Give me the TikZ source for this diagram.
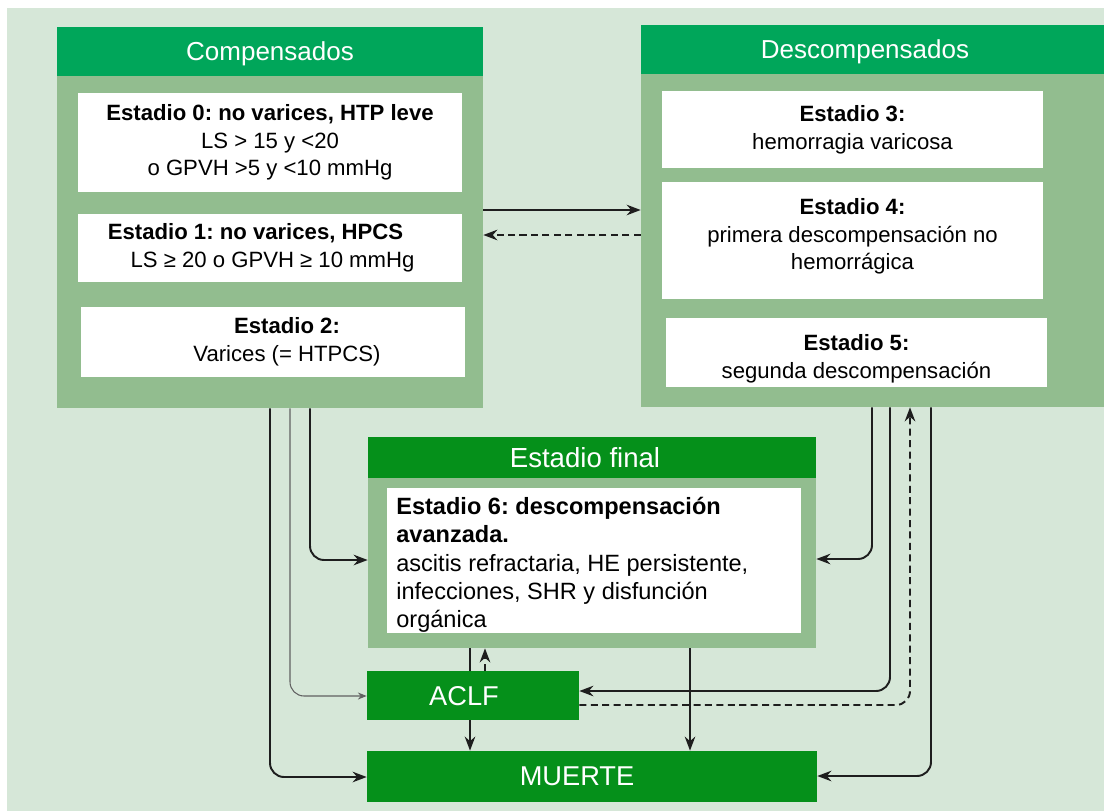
\documentclass[tikz,border=0pt]{standalone}
\usepackage{fontspec}
\setmainfont{Liberation Sans}
\usetikzlibrary{arrows.meta}
\definecolor{bgc}{HTML}{D6E7D8}
\definecolor{headc}{HTML}{00A65A}
\definecolor{bodyc}{HTML}{92BD8F}
\definecolor{darkc}{HTML}{05901A}
\definecolor{linec}{HTML}{1E1E1E}
\frenchspacing
\begin{document}
\begin{tikzpicture}[x=0.02cm,y=-0.02cm,
		panel/.style={fill=bodyc,inner sep=0pt},
		head/.style={fill=headc,text=white,inner sep=0pt,text depth=0pt,font=\fontsize{14.8}{18}\selectfont},
		stage/.style={fill=white,inner sep=0pt,align=center,font=\fontsize{12.6}{15.8}\selectfont},
		stagetext/.style={inner sep=0pt,align=center,font=\fontsize{12.6}{15.8}\selectfont},
		endbox/.style={fill=darkc,text=white,inner sep=0pt,text depth=0pt,font=\fontsize{15.5}{18}\selectfont},
		conn/.style={draw=linec,line width=1.1pt,rounded corners=8pt},
		arr/.style={-{Stealth[length=8pt,width=6pt]}},
		back/.style={dash pattern=on 4pt off 2.5pt}]
		\path[use as bounding box] (0,0) rectangle (1104,811);
		\fill[bgc] (7,8) rectangle (1104,811);
		
		% compensados
		\node[panel,minimum width=8.52cm,minimum height=7.62cm] (comp) at (270,217.5) {};
		\node[head,minimum width=8.52cm,minimum height=0.98cm] (compHead) at (270,51.5) {Compensados};
		\node[stage,minimum width=7.68cm,minimum height=1.98cm] (s0) at (270,142.5) {\textbf{Estadio 0: no varices, HTP leve}\\LS > 15 y <20\\o GPVH >5 y <10 mmHg};
		\node[stage,minimum width=7.68cm,minimum height=1.38cm] (s1) at (270,248) {\textbf{Estadio 1: no varices, HPCS}\hspace*{0.58cm}\\\hspace*{0.1cm}LS ≥ 20 o GPVH ≥ 10 mmHg};
		\node[stage,minimum width=7.68cm,minimum height=1.4cm] (s2) at (273,342) {\hspace*{0.56cm}\textbf{Estadio 2:}\\\hspace*{0.56cm}Varices (= HTPCS)};
		
		% descompensados
		\node[panel,minimum width=9.26cm,minimum height=7.64cm] (desc) at (872.5,216) {};
		\node[head,minimum width=9.26cm,minimum height=0.98cm] (descHead) at (872.5,49.5) {Descompensados\hspace*{0.3cm}};
		\node[stage,minimum width=7.62cm,minimum height=1.54cm] (s3) at (852.5,129.5) {\textbf{Estadio 3:}\\hemorragia varicosa};
		\node[stage,minimum width=7.62cm,minimum height=2.34cm] (s4) at (852.5,240.5) {};
		\node[stagetext] (s4txt) at (852.5,236.5) {\textbf{Estadio 4:}\\primera descompensación no\\hemorrágica};
		\node[stage,minimum width=7.62cm,minimum height=1.38cm] (s5) at (856.5,352.5) {};
		\node[stagetext] (s5txt) at (856.5,359) {\textbf{Estadio 5:}\\segunda descompensación};
		
		% estadio final
		\node[panel,minimum width=8.96cm,minimum height=4.22cm] (fin) at (592,542.5) {};
		\node[endbox,minimum width=8.96cm,minimum height=0.82cm,font=\fontsize{15.7}{18}\selectfont] (finHead) at (592,457.5) {Estadio final\hspace*{0.28cm}};
		\node[stage,minimum width=8.28cm,minimum height=2.9cm] (s6) at (594,560.5) {};
		\node[stagetext,align=left,anchor=west,font=\fontsize{13.4}{16.1}\selectfont] (s6txt) at (396,565) {\textbf{Estadio 6: descompensación}\\\textbf{avanzada.}\\ascitis refractaria, HE persistente,\\infecciones, SHR y disfunción\\orgánica};
		
		\node[endbox,minimum width=4.24cm,minimum height=0.98cm] (aclf) at (473,695.5) {ACLF\hspace*{0.36cm}};
		\node[endbox,minimum width=9cm,minimum height=1.02cm] (muerte) at (592,776.5) {MUERTE\hspace*{0.6cm}};
		
		% flechas
		\draw[conn,arr] (comp.east |- 0,210) -- (desc.west |- 0,210);
		\draw[conn,arr,back] (desc.west |- 0,235) -- (comp.east |- 0,235);
		
		\draw[conn,arr] (comp.south -| 310,0) |- (fin.west |- 0,560);
		\draw[conn,line width=0.6pt,draw=linec!70,-{Stealth[length=5pt,width=4pt]}] (comp.south -| 290,0) |- (aclf.west |- 0,696);
		\draw[conn,arr] (comp.south -| 270,0) |- (muerte.west |- 0,777);
		
		\draw[conn,arr] (desc.south -| 872,0) |- (fin.east |- 0,559);
		\draw[conn,arr] (desc.south -| 890,0) |- (aclf.east |- 0,691);
		\draw[conn,arr,back] (aclf.east |- 0,705) -| (desc.south -| 910,0);
		\draw[conn,arr] (desc.south -| 931,0) |- (muerte.east |- 0,776);
		
		\draw[conn] (fin.south -| 470,0) -- (aclf.north -| 470,0);
		\draw[conn,arr] (aclf.south -| 470,0) -- (muerte.north -| 470,0);
		\draw[conn,arr,back] (aclf.north -| 485,0) -- (fin.south -| 485,0);
		\draw[conn,arr] (fin.south -| 690,0) -- (muerte.north -| 690,0);
		
	\end{tikzpicture}
\end{document}
